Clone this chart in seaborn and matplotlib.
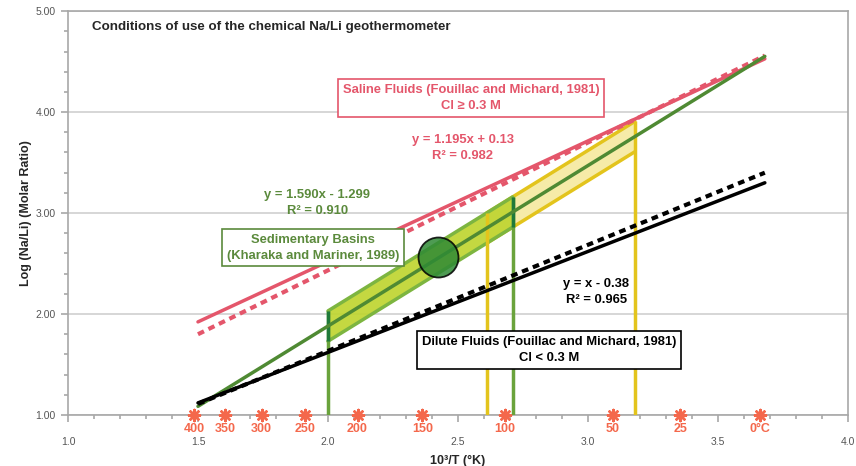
import numpy as np
import pandas as pd
import matplotlib
matplotlib.use("Agg")
import matplotlib.pyplot as plt
import seaborn as sns
from matplotlib.ticker import MultipleLocator, FormatStrFormatter

sns.set_style("white")
plt.rcParams['font.family'] = ['Liberation Sans', 'DejaVu Sans']

# Regression fits (slope, intercept) as printed on the chart
saline_fit = (1.195, 0.13)
basin_fit = (1.590, -1.299)
dilute_fit = (1.0, -0.38)
fit_x = [1.5, 3.68]

# Dashed data trends (end points)
saline_dash_x = [1.5, 3.68]
saline_dash_y = [1.80, 4.56]
dilute_dash_x = [1.5, 3.68]
dilute_dash_y = [1.11, 3.40]

# Validity windows along the sedimentary-basin fit (10^3/T)
green_window = [2.0, 2.71]
yellow_window = [2.61, 3.18]
band_half = 0.15

# Highlighted point
circle_x = [2.423]
circle_y = [2.564]

# Temperature scale along the bottom axis
temps_c = [400, 350, 300, 250, 200, 150, 100, 50, 25, 0]
temp_labels = ["400", "350", "300", "250", "200", "150", "100", "50", "25", "0°C"]

RED = "#e4566b"
GREEN = "#4f8a33"
GREEN_TXT = "#5b8a3c"
BAND_G = "#bfd531"
BAND_G_EDGE = "#7db540"
BAND_Y = "#f6eba8"
BAND_Y_EDGE = "#e3c41c"
ORANGE = "#f4684c"
AXIS_GREY = "#a8a8a8"
FS = 9.4
LS = 1.45
BOX = "square,pad=0.35"

fig = plt.figure(figsize=(8.56, 4.66), dpi=100)
ax = fig.add_axes([0.0794, 0.1094, 0.9113, 0.8667])
ax.set_xlim(1.0, 4.0)
ax.set_ylim(1.0, 5.0)


def fit_line(fit, xs):
    xs = np.asarray(xs, dtype=float)
    return fit[0] * xs + fit[1]


# Yellow window band
yx = np.array(yellow_window)
yc = fit_line(basin_fit, yx)
ax.fill_between(yx, yc - band_half, yc + band_half, color=BAND_Y, zorder=2, lw=0)
sns.lineplot(x=yx, y=yc + band_half, ax=ax, color=BAND_Y_EDGE, lw=2.5, zorder=2.1)
sns.lineplot(x=yx, y=yc - band_half, ax=ax, color=BAND_Y_EDGE, lw=2.5, zorder=2.1)

# Green window band
gx = np.array(green_window)
gc = fit_line(basin_fit, gx)
ax.fill_between(gx, gc - band_half, gc + band_half, color=BAND_G, alpha=0.92, zorder=3, lw=0)
sns.lineplot(x=gx, y=gc + band_half, ax=ax, color=BAND_G_EDGE, lw=2.5, zorder=3.1)
sns.lineplot(x=gx, y=gc - band_half, ax=ax, color=BAND_G_EDGE, lw=2.5, zorder=3.1)

# Vertical window limits
for xv, top, col in [(yellow_window[0], yc[0] + band_half, BAND_Y_EDGE),
                     (yellow_window[1], yc[1] + band_half, BAND_Y_EDGE),
                     (green_window[0], gc[0] + band_half, "#6aa33c"),
                     (green_window[1], gc[1] + band_half, "#6aa33c")]:
    ax.vlines(xv, 1.0, top, color=col, lw=2.5, zorder=3.5)
for xv, lo, hi in [(green_window[0], gc[0] - band_half, gc[0] + band_half),
                   (green_window[1], gc[1] - band_half, gc[1] + band_half)]:
    ax.vlines(xv, lo, hi, color="#1f7a3a", lw=2.5, zorder=3.6)

# Fit lines and dashed trends
sns.lineplot(x=fit_x, y=fit_line(saline_fit, fit_x), ax=ax, color=RED, lw=2.5, zorder=4)
sns.lineplot(x=saline_dash_x, y=saline_dash_y, ax=ax, color=RED, lw=3,
             linestyle=(0, (1.6, 1.2)), zorder=4)
sns.lineplot(x=fit_x, y=fit_line(basin_fit, fit_x), ax=ax, color=GREEN, lw=2.5, zorder=4)
sns.lineplot(x=fit_x, y=fit_line(dilute_fit, fit_x), ax=ax, color="black", lw=2.5, zorder=4)
sns.lineplot(x=dilute_dash_x, y=dilute_dash_y, ax=ax, color="black", lw=3,
             linestyle=(0, (1.6, 1.2)), zorder=4)

# Highlighted circle
sns.scatterplot(x=circle_x, y=circle_y, ax=ax, s=830, color="#2f8a35", alpha=0.85,
                edgecolor="black", linewidth=1.3, zorder=5, legend=False)

# Temperature markers on the x axis
temp_x = [1000.0 / (t + 273.15) for t in temps_c]
sns.scatterplot(x=temp_x, y=[1.0] * len(temp_x), ax=ax, marker=(8, 2, 0), s=64,
                color=ORANGE, edgecolor=ORANGE, linewidth=1.8, zorder=6, legend=False)
for coll in ax.collections[-1:]:
    coll.set_clip_on(False)
for xt, lab in zip(temp_x, temp_labels):
    ax.annotate(lab, (xt, 1.0), xytext=(0, -5.5), textcoords="offset points",
                ha="center", va="top", color=ORANGE, fontsize=9, fontweight="bold")

# Text annotations
ax.text(0.031, 0.960, "Conditions of use of the chemical Na/Li geothermometer",
        transform=ax.transAxes, ha="left", va="center", fontsize=9.6, fontweight="bold")

ax.text(2.55, 4.139, "Saline Fluids (Fouillac and Michard, 1981)\nCl ≥ 0.3 M",
        ha="center", va="center", color=RED, fontsize=FS, fontweight="bold",
        linespacing=LS, zorder=7,
        bbox=dict(boxstyle=BOX, fc="white", ec=RED, lw=1.2))
ax.text(2.519, 3.644, "y = 1.195x + 0.13\nR² = 0.982", ha="center", va="center",
        color=RED, fontsize=FS, fontweight="bold", linespacing=LS, zorder=7)

ax.text(1.942, 2.658, "Sedimentary Basins\n(Kharaka and Mariner, 1989)",
        ha="center", va="center", color=GREEN_TXT, fontsize=FS, fontweight="bold",
        linespacing=LS, zorder=7,
        bbox=dict(boxstyle=BOX, fc="white", ec=GREEN_TXT, lw=1.2))
ax.text(1.958, 3.099, "y = 1.590x - 1.299\nR² = 0.910", ha="center", va="center",
        color=GREEN_TXT, fontsize=FS, fontweight="bold", linespacing=LS, zorder=7)

ax.text(2.850, 1.644, "Dilute Fluids (Fouillac and Michard, 1981)\nCl < 0.3 M",
        ha="center", va="center", color="black", fontsize=FS, fontweight="bold",
        linespacing=LS, zorder=7,
        bbox=dict(boxstyle=BOX, fc="white", ec="black", lw=1.2))
ax.text(3.031, 2.218, "y = x - 0.38\nR² = 0.965", ha="center", va="center",
        color="black", fontsize=FS, fontweight="bold", linespacing=LS, zorder=7)

# Axes styling
ax.xaxis.set_major_locator(MultipleLocator(0.5))
ax.xaxis.set_minor_locator(MultipleLocator(0.1))
ax.yaxis.set_major_locator(MultipleLocator(1.0))
ax.yaxis.set_minor_locator(MultipleLocator(0.2))
ax.xaxis.set_major_formatter(FormatStrFormatter("%.1f"))
ax.yaxis.set_major_formatter(FormatStrFormatter("%.2f"))
ax.tick_params(axis="both", which="both", direction="out", colors=AXIS_GREY,
               labelcolor="#555555", labelsize=7.5, width=1.2)
ax.tick_params(axis="x", which="major", length=5, pad=10.5, bottom=True)
ax.tick_params(axis="x", which="minor", length=3, bottom=True)
ax.tick_params(axis="y", which="major", length=5, pad=4, left=True)
ax.tick_params(axis="y", which="minor", length=3, left=True)

ax.yaxis.grid(True, which="major", color="#cfcfcf", lw=1.2, zorder=0)
ax.xaxis.grid(False)
ax.set_axisbelow(True)
for sp in ax.spines.values():
    sp.set_visible(True)
    sp.set_color(AXIS_GREY)
    sp.set_linewidth(1.2)

ax.set_xlabel("10³/T (°K)", fontsize=9, fontweight="bold", labelpad=6)
ax.set_ylabel("Log (Na/Li) (Molar Ratio)", fontsize=9, fontweight="bold", labelpad=2)

fig.savefig("out.png", dpi=100)
